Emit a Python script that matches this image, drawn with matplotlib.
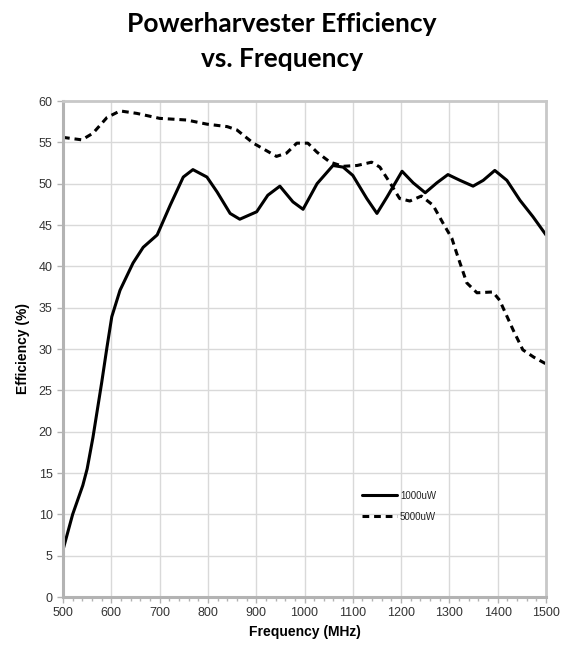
import matplotlib
matplotlib.use("Agg")
import matplotlib.pyplot as plt
from matplotlib.ticker import MultipleLocator

freq_1000 = [500, 520, 541, 550, 562, 580, 591, 601, 618, 645, 666, 695, 722, 749, 769,
             798, 819, 846, 866, 901, 924, 949, 976, 997, 1026, 1059, 1080, 1100, 1129,
             1150, 1171, 1202, 1225, 1250, 1274, 1297, 1322, 1349, 1370, 1394, 1419, 1446,
             1473, 1500]
eff_1000 = [5.7, 10.0, 13.5, 15.5, 19.3, 25.9, 30.2, 33.9, 37.1, 40.4, 42.3, 43.8, 47.4, 50.8, 51.7,
            50.8, 49.0, 46.4, 45.7, 46.6, 48.6, 49.7, 47.8, 46.9, 50.0, 52.2, 52.0, 51.0, 48.2,
            46.4, 48.4, 51.5, 50.1, 48.9, 50.1, 51.1, 50.4, 49.7, 50.4, 51.6, 50.4, 48.0,
            46.0, 43.8]

freq_5000 = [500, 539, 562, 591, 618, 653, 700, 756, 798, 840, 860, 894, 942, 963, 984,
             1007, 1026, 1053, 1080, 1109, 1139, 1156, 1177, 1197, 1218, 1242, 1266, 1287,
             1305, 1315, 1336, 1357, 1390, 1404, 1432, 1452, 1475, 1500]
eff_5000 = [55.6, 55.3, 56.1, 58.0, 58.8, 58.5, 57.9, 57.7, 57.2, 56.9, 56.5, 54.9, 53.3, 53.7, 54.9,
            54.9, 53.8, 52.6, 52.1, 52.2, 52.6, 52.0, 50.1, 48.2, 47.9, 48.5, 47.4, 45.2,
            43.4, 41.6, 38.0, 36.8, 36.9, 35.9, 32.3, 29.9, 29.0, 28.2]

labels = ["1000uW", "5000uW"]
title_lines = ["Powerharvester Efficiency", "vs. Frequency"]
xlabel = "Frequency (MHz)"
ylabel = "Efficiency (%)"

plt.rcParams['font.family'] = ['Liberation Sans', 'DejaVu Sans']

fig = plt.figure(figsize=(5.64, 6.47), dpi=100)
ax = fig.add_axes([63/564, 1-597/647, (546-63)/564, (597-101)/647])

ax.plot(freq_1000, eff_1000, color='black', lw=2.2, label=labels[0],
        solid_capstyle='round', solid_joinstyle='round')
ax.plot(freq_5000, eff_5000, color='black', lw=2.2, ls=(0, (2.2, 1.6)), label=labels[1],
        dash_joinstyle='round')

ax.set_xlim(500, 1500)
ax.set_ylim(0, 60)
ax.xaxis.set_major_locator(MultipleLocator(100))
ax.xaxis.set_minor_locator(MultipleLocator(20))
ax.yaxis.set_major_locator(MultipleLocator(5))
ax.grid(True, which='major', color='#d9d9d9', lw=1)
ax.set_axisbelow(True)

for side in ['left', 'bottom']:
    ax.spines[side].set_color('#b3b3b3')
    ax.spines[side].set_linewidth(2.2)
for side in ['top', 'right']:
    ax.spines[side].set_color('#c8c8c8')
    ax.spines[side].set_linewidth(2.0)

ax.tick_params(axis='both', which='major', labelsize=9, length=4, width=1,
               color='#b3b3b3', labelcolor='#333333')
ax.tick_params(axis='x', which='minor', length=3, color='#b3b3b3', width=1)

ax.set_xlabel(xlabel, fontsize=10, fontweight='bold', labelpad=4)
ax.set_ylabel(ylabel, fontsize=10, fontweight='bold', labelpad=6)

leg = ax.legend(loc='upper left', bbox_to_anchor=(0.6, 0.232), frameon=False, fontsize=7,
                handlelength=3.6, handletextpad=0.35, labelspacing=1.15)
for t in leg.get_texts():
    t.set_color('#222222')

fig.text(0.5, 1-32/647, title_lines[0], ha='center', va='baseline', fontsize=19,
         fontweight='bold', family=['Lato', 'DejaVu Sans'])
fig.text(0.5, 1-67/647, title_lines[1], ha='center', va='baseline', fontsize=19,
         fontweight='bold', family=['Lato', 'DejaVu Sans'])

fig.savefig('out.png', dpi=100)
